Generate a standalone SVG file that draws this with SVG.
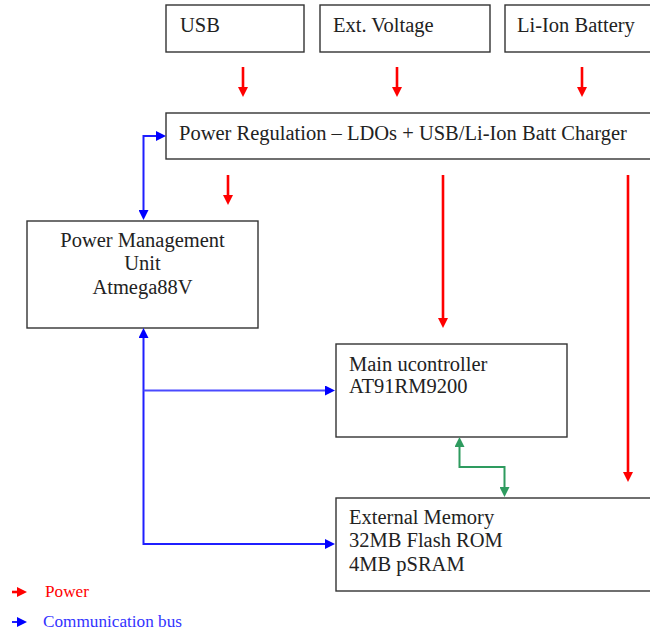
<svg xmlns="http://www.w3.org/2000/svg" width="650" height="633" viewBox="0 0 650 633">
<style>
.box{fill:#fff;stroke:#333;stroke-width:1.4}
.t{font-family:'Liberation Serif','DejaVu Serif',serif;font-size:20.5px;fill:#222}
.pw{stroke:#ff0000;stroke-width:2.6;fill:none}
.cb{stroke:#1f1fff;stroke-width:2;fill:none}
.cbh{stroke:#4a4aff;stroke-width:2;fill:none}
.gr{stroke:#2e9b5f;stroke-width:2;fill:none}
.lg{font-family:'Liberation Serif','DejaVu Serif',serif;font-size:17.2px}
</style>
<defs>
<marker id="ar" viewBox="0 0 10 10" refX="4" refY="5" markerWidth="10" markerHeight="10" markerUnits="userSpaceOnUse" orient="auto-start-reverse"><path d="M0,0 L10,5 L0,10 z" fill="#ff0000"/></marker>
<marker id="ab" viewBox="0 0 10 10" refX="4" refY="5" markerWidth="10" markerHeight="10" markerUnits="userSpaceOnUse" orient="auto-start-reverse"><path d="M0,0 L10,5 L0,10 z" fill="#0000ff"/></marker>
<marker id="ag" viewBox="0 0 10 10" refX="4" refY="5" markerWidth="10" markerHeight="10" markerUnits="userSpaceOnUse" orient="auto-start-reverse"><path d="M0,0 L10,5 L0,10 z" fill="#2e9b5f"/></marker>
</defs>
<rect width="650" height="633" fill="#fff"/>
<g id="usb"><rect class="box" x="166" y="5" width="138" height="47"/><text class="t" x="180" y="32">USB</text></g>
<g id="extv"><rect class="box" x="320" y="5" width="170" height="47"/><text class="t" x="333" y="32">Ext. Voltage</text></g>
<g id="liion"><rect class="box" x="505" y="5" width="160" height="47"/><text class="t" x="517" y="32">Li-Ion Battery</text></g>
<g id="powerreg"><rect class="box" x="166" y="113" width="500" height="46"/><text class="t" x="179" y="140">Power Regulation – LDOs + USB/Li-Ion Batt Charger</text></g>
<g id="pmu"><rect class="box" x="27" y="221" width="231" height="107"/><text class="t" text-anchor="middle"><tspan x="142.5" y="247">Power Management</tspan><tspan x="142.5" y="270">Unit</tspan><tspan x="142.5" y="294">Atmega88V</tspan></text></g>
<g id="mainuc"><rect class="box" x="336" y="344" width="231" height="93"/><text class="t"><tspan x="349" y="371">Main ucontroller</tspan><tspan x="349" y="393">AT91RM9200</tspan></text></g>
<g id="extmem"><rect class="box" x="336" y="498" width="330" height="93"/><text class="t"><tspan x="349" y="524">External Memory</tspan><tspan x="349" y="547">32MB Flash ROM</tspan><tspan x="349" y="571">4MB pSRAM</tspan></text></g>
<g id="connectors">
<line class="pw" x1="243" y1="67" x2="243" y2="91" marker-end="url(#ar)"/>
<line class="pw" x1="397" y1="67" x2="397" y2="91" marker-end="url(#ar)"/>
<line class="pw" x1="582" y1="67" x2="582" y2="91" marker-end="url(#ar)"/>
<line class="pw" x1="228" y1="175" x2="228" y2="199" marker-end="url(#ar)"/>
<line class="pw" x1="443" y1="175" x2="443" y2="322" marker-end="url(#ar)"/>
<line class="pw" x1="628" y1="175" x2="628" y2="476" marker-end="url(#ar)"/>
<path class="cb" d="M160,136 H143.5 V214" marker-start="url(#ab)" marker-end="url(#ab)"/>
<path class="cb" d="M143.5,334 V544 H329" marker-start="url(#ab)" marker-end="url(#ab)"/>
<path class="cbh" d="M143.5,390.5 H329" marker-end="url(#ab)"/>
<path class="gr" d="M459.5,443 V467 H504.5 V491" marker-start="url(#ag)" marker-end="url(#ag)"/>
</g>
<g id="legend">
<line class="pw" x1="12" y1="592" x2="21" y2="592" marker-end="url(#ar)"/>
<text class="lg" x="45" y="597" fill="#ff0000">Power</text>
<line class="cb" x1="12" y1="622" x2="21" y2="622" stroke="#3355ff" stroke-width="2.6" marker-end="url(#ab)"/>
<text class="lg" x="43" y="627" fill="#3333ff">Communication bus</text>
</g>
</svg>
